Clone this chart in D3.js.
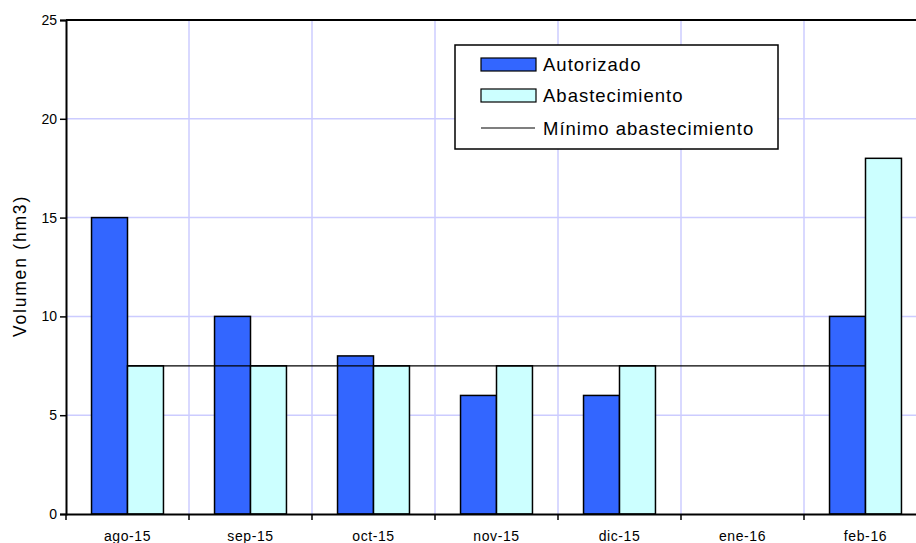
<!DOCTYPE html>
<html>
<head>
<meta charset="utf-8">
<script src="https://cdn.jsdelivr.net/npm/d3@7"></script>
<style>
  body { margin: 0; background: #fff; }
  svg { display: block; font-family: "Liberation Sans", Arial, sans-serif; }
</style>
</head>
<body>
<svg id="chart" width="916" height="543"></svg>
<script>
// Monthly volumes (hm3)
const months = ["ago-15", "sep-15", "oct-15", "nov-15", "dic-15", "ene-16", "feb-16"];
const autorizado = [15, 10, 8, 6, 6, null, 10];
const abastecimiento = [7.5, 7.5, 7.5, 7.5, 7.5, null, 18];
const minimoAbastecimiento = 7.5;
const yTicks = [0, 5, 10, 15, 20, 25];
const seriesNames = ["Autorizado", "Abastecimiento", "Mínimo abastecimiento"];
const colors = { autorizado: "#3366FF", abastecimiento: "#CCFFFF", grid: "#CCCCFF" };

const svg = d3.select("#chart");
const plotLeft = 66, plotRight = 927, plotTop = 20, plotBottom = 514;
const font = "Liberation Sans, Arial, sans-serif";

const x = d3.scaleBand().domain(months).range([plotLeft, plotRight]).paddingInner(0).paddingOuter(0);
const inner = d3.scaleBand().domain(["a", "b"]).range([0, x.bandwidth()]).paddingInner(0).paddingOuter(0.71);
const y = d3.scaleLinear().domain([0, 25]).range([plotBottom, plotTop]);

// gridlines
const grid = svg.append("g");
grid.selectAll("line.h").data(yTicks.filter(d => d > 0 && d < 25)).join("line")
  .attr("class", "h")
  .attr("x1", plotLeft).attr("x2", plotRight).attr("y1", d => y(d)).attr("y2", d => y(d))
  .attr("stroke", colors.grid).attr("stroke-width", 1.5);
grid.selectAll("line.v").data(months.slice(1)).join("line")
  .attr("class", "v")
  .attr("x1", d => x(d)).attr("x2", d => x(d)).attr("y1", plotTop).attr("y2", plotBottom)
  .attr("stroke", colors.grid).attr("stroke-width", 1.5);

// bars
const bars = svg.append("g");
months.forEach((m, i) => {
  [["a", autorizado[i], colors.autorizado], ["b", abastecimiento[i], colors.abastecimiento]].forEach(([k, v, c]) => {
    if (v == null) return;
    bars.append("rect")
      .attr("x", x(m) + inner(k)).attr("width", inner.bandwidth())
      .attr("y", y(v)).attr("height", y(0) - y(v))
      .attr("fill", c).attr("stroke", "#000").attr("stroke-width", 1.5);
  });
});

// minimum supply line
svg.append("line")
  .attr("x1", x(months[0]) + x.bandwidth() / 2)
  .attr("x2", x(months[months.length - 1]) + x.bandwidth() / 2)
  .attr("y1", y(minimoAbastecimiento)).attr("y2", y(minimoAbastecimiento))
  .attr("stroke", "#000").attr("stroke-width", 1.2);

// plot frame
svg.append("line").attr("x1", plotLeft).attr("x2", plotRight).attr("y1", plotTop).attr("y2", plotTop)
  .attr("stroke", "#000").attr("stroke-width", 2);

// y axis
const yAxis = svg.append("g").attr("transform", `translate(${plotLeft},0)`)
  .call(d3.axisLeft(y).tickValues(yTicks).tickSize(6).tickPadding(3));
yAxis.select(".domain").attr("stroke-width", 2);
yAxis.selectAll(".tick line").attr("stroke-width", 1.5);
yAxis.selectAll("text").attr("font-size", 14).attr("fill", "#000").attr("font-family", font);

// x axis
const xAxis = svg.append("g").attr("transform", `translate(0,${plotBottom})`)
  .call(d3.axisBottom(x).tickSize(0).tickPadding(17));
xAxis.select(".domain").attr("stroke-width", 2);
xAxis.selectAll("text").attr("font-size", 14).attr("letter-spacing", 0.6)
  .attr("fill", "#000").attr("font-family", font);
svg.append("g").selectAll("line").data(months).join("line")
  .attr("x1", d => x(d)).attr("x2", d => x(d)).attr("y1", plotBottom).attr("y2", plotBottom + 6)
  .attr("stroke", "#000").attr("stroke-width", 1.5);

// y axis title
svg.append("text")
  .attr("transform", "translate(26,266) rotate(-90)")
  .attr("text-anchor", "middle").attr("font-size", 17.5).attr("letter-spacing", 1.8)
  .text("Volumen (hm3)");

// legend
const lg = svg.append("g").attr("transform", "translate(455,45)");
lg.append("rect").attr("width", 323).attr("height", 104)
  .attr("fill", "#fff").attr("stroke", "#000").attr("stroke-width", 1.5);
const rowsY = [19, 50, 83];
[colors.autorizado, colors.abastecimiento].forEach((c, i) => {
  lg.append("rect").attr("x", 26).attr("y", rowsY[i] - 6).attr("width", 55).attr("height", 13)
    .attr("fill", c).attr("stroke", "#000").attr("stroke-width", 1.2);
});
lg.append("line").attr("x1", 26).attr("x2", 80).attr("y1", rowsY[2]).attr("y2", rowsY[2])
  .attr("stroke", "#000").attr("stroke-width", 1.2);
seriesNames.forEach((n, i) => {
  lg.append("text").attr("x", 88).attr("y", rowsY[i]).attr("dy", "0.36em")
    .attr("font-size", 18.5).attr("letter-spacing", 1.0).text(n);
});
</script>
</body>
</html>
